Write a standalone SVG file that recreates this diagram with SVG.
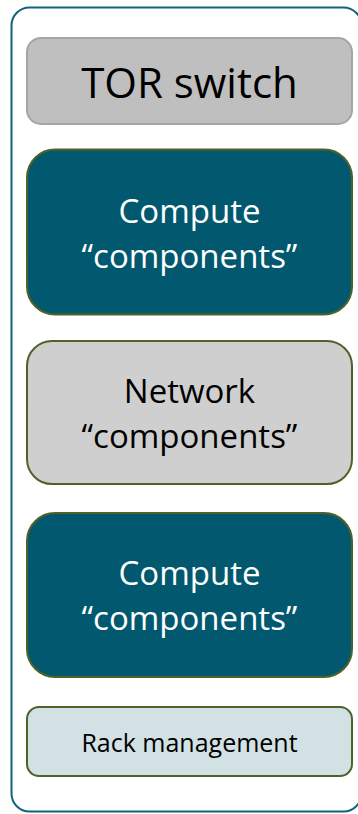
<svg xmlns="http://www.w3.org/2000/svg" width="358" height="814" viewBox="0 0 358 814">
<style>
text{font-family:"Open Sans","Noto Sans","Liberation Sans",sans-serif;text-anchor:middle}
.olive{stroke:#4f6228;stroke-width:2}
.teal{fill:#02596f}
.wt{fill:#ffffff;font-size:33px}
.bt{fill:#000000;font-size:33px}
</style>
<rect id="frame" x="11.5" y="7.5" width="350" height="804" rx="18" fill="#ffffff" stroke="#10637a" stroke-width="2"/>
<g id="tor">
<rect x="27" y="38" width="325" height="86" rx="14" fill="#bfbfbf" stroke="#a5a5a5" stroke-width="2"/>
<text x="189.5" y="98" style="font-size:42px" fill="#000000">TOR switch</text>
</g>
<g id="compute1">
<rect class="teal olive" x="27" y="149.5" width="325" height="165" rx="28"/>
<text class="wt" x="189.5" y="223">Compute</text>
<text class="wt" x="189.5" y="268">“components”</text>
</g>
<g id="network">
<rect class="olive" x="27" y="341" width="325" height="143" rx="25" fill="#cfcfcf"/>
<text class="bt" x="189.5" y="403">Network</text>
<text class="bt" x="189.5" y="448">“components”</text>
</g>
<g id="compute2">
<rect class="teal olive" x="27" y="513" width="325" height="164" rx="28"/>
<text class="wt" x="189.5" y="585">Compute</text>
<text class="wt" x="189.5" y="630">“components”</text>
</g>
<g id="rack">
<rect class="olive" x="27" y="707" width="325" height="69" rx="12" fill="#d2e1e4"/>
<text x="189.5" y="752" style="font-size:25px" fill="#000000">Rack management</text>
</g>
<g id="connectors"></g>
</svg>
